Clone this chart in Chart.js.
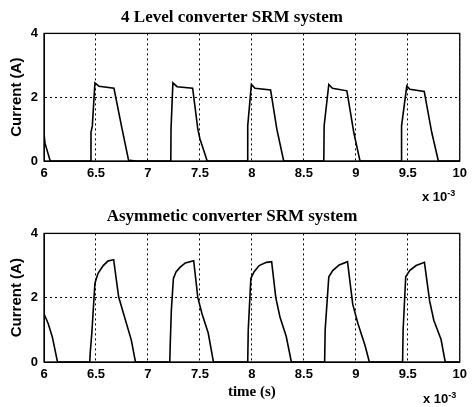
<!DOCTYPE html>
<html>
<head>
<meta charset="utf-8">
<script src="https://cdn.jsdelivr.net/npm/chart.js@4/dist/chart.umd.min.js"></script>
<style>
  body { margin: 0; background: #fff; width: 472px; height: 407px; position: relative; overflow: hidden; }
  canvas { position: absolute; left: 0; }
  #topChart { top: 0; }
  #bottomChart { top: 200px; }
  .mult { position: absolute; font: bold 13px "Liberation Sans", Arial, sans-serif; color: #000; }
  .mult sup { font-size: 9px; }
</style>
</head>
<body>
<canvas id="topChart" width="472" height="200"></canvas>
<canvas id="bottomChart" width="472" height="207"></canvas>
<div class="mult" style="left:422px; top:188px;">x 10<sup>-3</sup></div>
<div class="mult" style="left:423px; top:390px;">x 10<sup>-3</sup></div>
<script>
// time in ms (axis is x 10^-3 s), current in A
const timeTop = [6.000, 6.010, 6.060, 6.450, 6.452, 6.465, 6.490, 6.530, 6.673, 6.745, 6.815, 6.830, 6.880,
  7.220, 7.222, 7.240, 7.280, 7.430, 7.480, 7.500, 7.570,
  7.957, 7.960, 7.995, 8.030, 8.180, 8.240, 8.306,
  8.692, 8.695, 8.740, 8.775, 8.914, 8.980, 9.040,
  9.436, 9.440, 9.490, 9.520, 9.658, 9.730, 9.794, 10.0];
const currentTop = [0.85, 0.55, 0.0, 0.0, 0.9, 1.1, 2.45, 2.34, 2.28, 1.1, 0.0, 0.02, 0.0,
  0.0, 1.0, 2.45, 2.33, 2.28, 1.0, 0.7, 0.0,
  0.0, 1.1, 2.40, 2.28, 2.23, 1.0, 0.0,
  0.0, 1.1, 2.40, 2.28, 2.20, 0.9, 0.0,
  0.0, 1.1, 2.35, 2.25, 2.18, 0.9, 0.0, 0.0];

const timeBottom = [6.000, 6.040, 6.080, 6.130,
  6.440, 6.445, 6.460, 6.490, 6.520, 6.570, 6.615, 6.670, 6.718, 6.760, 6.840, 6.880,
  7.210, 7.215, 7.225, 7.245, 7.270, 7.310, 7.360, 7.440, 7.480, 7.520, 7.580, 7.630,
  7.960, 7.965, 7.990, 8.020, 8.070, 8.140, 8.190, 8.230, 8.270, 8.330, 8.380,
  8.700, 8.705, 8.740, 8.780, 8.840, 8.920, 8.970, 9.020, 9.090, 9.130,
  9.450, 9.455, 9.480, 9.520, 9.580, 9.660, 9.710, 9.750, 9.820, 9.860, 10.0];
const currentBottom = [1.5, 1.2, 0.78, 0.0,
  0.0, 0.3, 0.9, 2.45, 2.76, 3.0, 3.14, 3.18, 2.03, 1.56, 0.68, 0.0,
  0.0, 0.6, 1.6, 2.6, 2.8, 2.95, 3.08, 3.15, 2.0, 1.5, 0.9, 0.0,
  0.0, 1.0, 2.6, 2.8, 3.0, 3.1, 3.12, 2.0, 1.4, 0.8, 0.0,
  0.0, 1.0, 2.65, 2.85, 3.02, 3.12, 1.8, 1.2, 0.5, 0.0,
  0.0, 1.0, 2.65, 2.85, 3.0, 3.1, 1.9, 1.3, 0.7, 0.0, 0.0];

const xTicks = [6, 6.5, 7, 7.5, 8, 8.5, 9, 9.5, 10];
const yTicks = [0, 2, 4];
const titles = ['4 Level converter SRM system', 'Asymmetic converter SRM system'];

// solid box around the plot like MATLAB
const frame = {
  id: 'frame',
  afterDraw(chart) {
    const a = chart.chartArea, ctx = chart.ctx;
    ctx.save();
    ctx.strokeStyle = '#000';
    ctx.lineWidth = 1.3;
    ctx.strokeRect(a.left, a.top, a.right - a.left, a.bottom - a.top);
    ctx.restore();
  }
};

function makeChart(id, xs, ys, title, titlePad, axisH, xTitle) {
  return new Chart(document.getElementById(id), {
    type: 'line',
    data: {
      datasets: [{
        data: xs.map((x, i) => ({ x: x, y: ys[i] })),
        borderColor: '#000',
        borderWidth: 1.6,
        pointRadius: 0,
        tension: 0,
        fill: false
      }]
    },
    options: {
      responsive: false,
      animation: false,
      layout: { padding: { left: 0, right: 8, top: 0, bottom: 0 } },
      plugins: {
        legend: { display: false },
        tooltip: { enabled: false },
        title: {
          display: true, text: title, color: '#000',
          font: { family: '"Liberation Serif", "Times New Roman", serif', size: 17, weight: 'bold' },
          padding: titlePad
        }
      },
      scales: {
        x: {
          type: 'linear', min: 6, max: 10,
          afterBuildTicks: s => { s.ticks = xTicks.map(v => ({ value: v })); },
          afterFit: s => { s.height = axisH; },
          ticks: {
            color: '#000', padding: 5, maxRotation: 0,
            font: { family: '"Liberation Sans", Arial, sans-serif', size: 13, weight: 'bold' },
            callback: v => String(v)
          },
          grid: { color: '#000', lineWidth: 1, drawTicks: false },
          border: { color: '#000', dash: [2, 3] },
          title: {
            display: !!xTitle, text: xTitle || '', color: '#000',
            font: { family: '"Liberation Serif", "Times New Roman", serif', size: 15, weight: 'bold' },
            padding: { top: 0, bottom: 6 }
          }
        },
        y: {
          min: 0, max: 4,
          afterBuildTicks: s => { s.ticks = yTicks.map(v => ({ value: v })); },
          afterFit: s => { s.width = 44; },
          ticks: {
            color: '#000', padding: 6,
            font: { family: '"Liberation Sans", Arial, sans-serif', size: 13, weight: 'bold' }
          },
          grid: { color: '#000', lineWidth: 1, drawTicks: false },
          border: { color: '#000', dash: [2, 3] },
          title: {
            display: true, text: 'Current (A)', color: '#000',
            font: { family: '"Liberation Sans", Arial, sans-serif', size: 15, weight: 'bold' },
            padding: { top: 8, bottom: 0 }
          }
        }
      }
    },
    plugins: [frame]
  });
}

makeChart('topChart', timeTop, currentTop, titles[0], { top: 7, bottom: 6 }, 39, null);
makeChart('bottomChart', timeBottom, currentBottom, titles[1], { top: 6, bottom: 7 }, 45, 'time (s)');
</script>
</body>
</html>
